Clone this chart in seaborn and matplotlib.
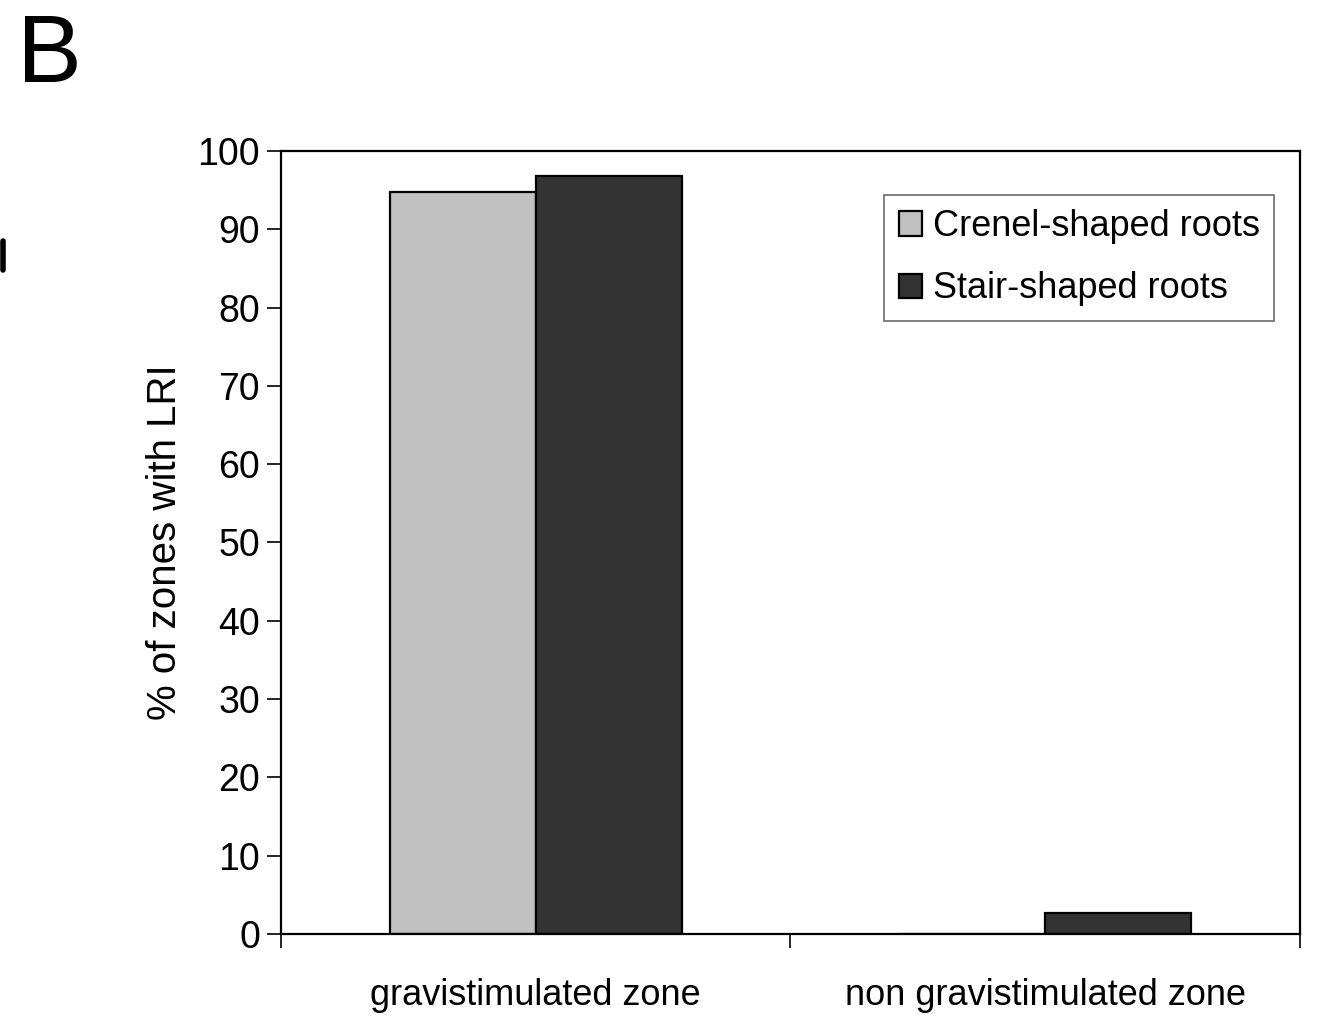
import matplotlib
matplotlib.use("Agg")
import matplotlib.pyplot as plt
from matplotlib.ticker import FixedLocator
import seaborn as sns
import pandas as pd

# Data
zones = ["gravistimulated zone", "non gravistimulated zone"]
crenel = [94.8, 0.0]
stair = [96.8, 2.7]
series = ["Crenel-shaped roots", "Stair-shaped roots"]
yticks = list(range(0, 101, 10))

df = pd.DataFrame({
    "zone": zones * 2,
    "pct": crenel + stair,
    "root": [series[0]] * len(zones) + [series[1]] * len(zones),
})

sns.set_style("white")
plt.rcParams["font.family"] = ["Liberation Sans", "DejaVu Sans"]
plt.rcParams["text.color"] = "black"
plt.rcParams["xtick.color"] = "black"
plt.rcParams["ytick.color"] = "black"
plt.rcParams["axes.labelcolor"] = "black"

fig = plt.figure(figsize=(13.18, 10.26), dpi=100)
ax = fig.add_axes([0.2132, 0.0897, 0.7731, 0.7632])

sns.barplot(data=df, x="zone", y="pct", hue="root", order=zones, hue_order=series,
            palette=["#c0c0c0", "#333333"], width=0.574, gap=0,
            edgecolor="black", linewidth=1.6, ax=ax)

ax.set_ylim(0, 100)
ax.set_xlim(-0.5, 1.5)
ax.set_yticks(yticks)
ax.tick_params(axis="y", labelsize=27, length=10, width=1.2, direction="out",
               left=True, pad=5)
ax.tick_params(axis="x", which="major", labelsize=26, length=0, pad=32)
ax.xaxis.set_minor_locator(FixedLocator([-0.5, 0.5, 1.5]))
ax.tick_params(axis="x", which="minor", length=10, width=1.2, direction="out", bottom=True)
ax.set_xlabel("")
ax.set_ylabel("% of zones with LRI", fontsize=29, labelpad=10)

for s in ax.spines.values():
    s.set_visible(True)
    s.set_color("black")
    s.set_linewidth(1.6)

leg = ax.legend(loc="upper right", bbox_to_anchor=(0.975, 0.944), fontsize=26,
                frameon=True, fancybox=False, handlelength=0.65, handleheight=0.65,
                handletextpad=0.3, borderpad=0.4, labelspacing=0.75,
                borderaxespad=0)
leg.get_frame().set_edgecolor("#444444")
leg.get_frame().set_linewidth(1.2)

fig.text(0.013, 0.920, "B", fontsize=70, ha="left", va="baseline")
# fragment of neighbouring panel at the left edge
fig.add_artist(plt.Line2D([0.002, 0.002], [0.737, 0.765], color="black", linewidth=4))

fig.savefig("out.png", dpi=100, facecolor="white")
